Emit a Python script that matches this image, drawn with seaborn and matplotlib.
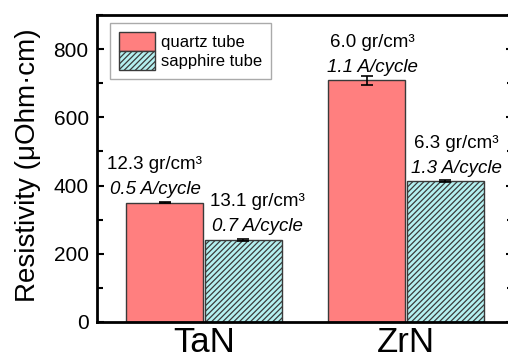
import pandas as pd
import numpy as np
import matplotlib
matplotlib.use('Agg')
import matplotlib.pyplot as plt
from matplotlib.ticker import MultipleLocator
import seaborn as sns

# values
materials = ['TaN', 'ZrN']
tubes = ['quartz tube', 'sapphire tube']
quartz_res = [350, 708]
sapphire_res = [241, 413]
quartz_err = [2, 12]
sapphire_err = [3, 4]
quartz_density = ['12.3', '6.0']
sapphire_density = ['13.1', '6.3']
quartz_rate = ['0.5', '1.1']
sapphire_rate = ['0.7', '1.3']

df = pd.DataFrame({
    'material': materials * 2,
    'tube': [tubes[0]] * 2 + [tubes[1]] * 2,
    'res': quartz_res + sapphire_res,
})

sns.set_style('ticks')
plt.rcParams['font.family'] = ['Liberation Sans', 'DejaVu Sans']
plt.rcParams['hatch.linewidth'] = 0.9
for k in ['text.color', 'axes.labelcolor', 'xtick.color', 'ytick.color', 'axes.edgecolor']:
    plt.rcParams[k] = 'black'

fig = plt.figure(figsize=(5.08, 3.62), dpi=100)
ax = fig.add_axes([0.191, 0.1105, 0.819, 0.8481])

sns.barplot(data=df, x='material', y='res', hue='tube',
            palette=['#FF7F7F', '#B4F0F0'], saturation=1, width=0.78, gap=0.03,
            edgecolor='#3a3a3a', linewidth=1.0, errorbar=None,
            legend=False, ax=ax)

for p in ax.containers[1]:
    p.set_hatch('//////')

# error bars and labels on top of each bar
label_dx = [[-7, 4], [10, 8]]  # text nudges in points, per tube / material
for i, (cont, errs, dens, rate) in enumerate(zip(
        ax.containers, [quartz_err, sapphire_err],
        [quartz_density, sapphire_density], [quartz_rate, sapphire_rate])):
    for j, p in enumerate(cont):
        cx = p.get_x() + p.get_width() / 2
        top = p.get_height()
        ax.errorbar(cx, top, yerr=errs[j], color='black', capsize=4,
                    elinewidth=1.2, capthick=1.2)
        ax.annotate(f'{rate[j]} A/cycle', xy=(cx, top),
                    xytext=(label_dx[i][j], 6), textcoords='offset points',
                    ha='center', va='baseline', fontsize=13.5, style='italic')
        ax.annotate(f'{dens[j]} gr/cm³', xy=(cx, top),
                    xytext=(label_dx[i][j], 24), textcoords='offset points',
                    ha='center', va='baseline', fontsize=13.5)

ax.set_xlim(-0.53, 1.53)
ax.set_ylim(0, 900)
ax.set_yticks(range(0, 801, 200))
ax.yaxis.set_minor_locator(MultipleLocator(100))
ax.tick_params(axis='y', which='both', direction='in', left=True, right=True,
               labelsize=15, width=1.5, pad=6)
ax.tick_params(axis='y', which='major', length=5)
ax.tick_params(axis='y', which='minor', length=4)
ax.tick_params(axis='x', length=0, labelsize=25, pad=3)

for s in ax.spines.values():
    s.set_linewidth(2)
    s.set_visible(True)

ax.set_xlabel('')
ax.set_ylabel('Resistivity (μOhm·cm)', fontsize=20)
ax.yaxis.set_label_coords(-0.135, 0.51)

ax.legend(handles=[c[0] for c in ax.containers], labels=tubes,
          loc='upper left', bbox_to_anchor=(0.03, 0.974), borderaxespad=0,
          fontsize=12, fancybox=False, edgecolor='#aaaaaa', framealpha=1,
          handlelength=2.2, handleheight=1.35, labelspacing=0.0,
          handletextpad=0.35, borderpad=0.55)

fig.savefig('out.png', dpi=100)
